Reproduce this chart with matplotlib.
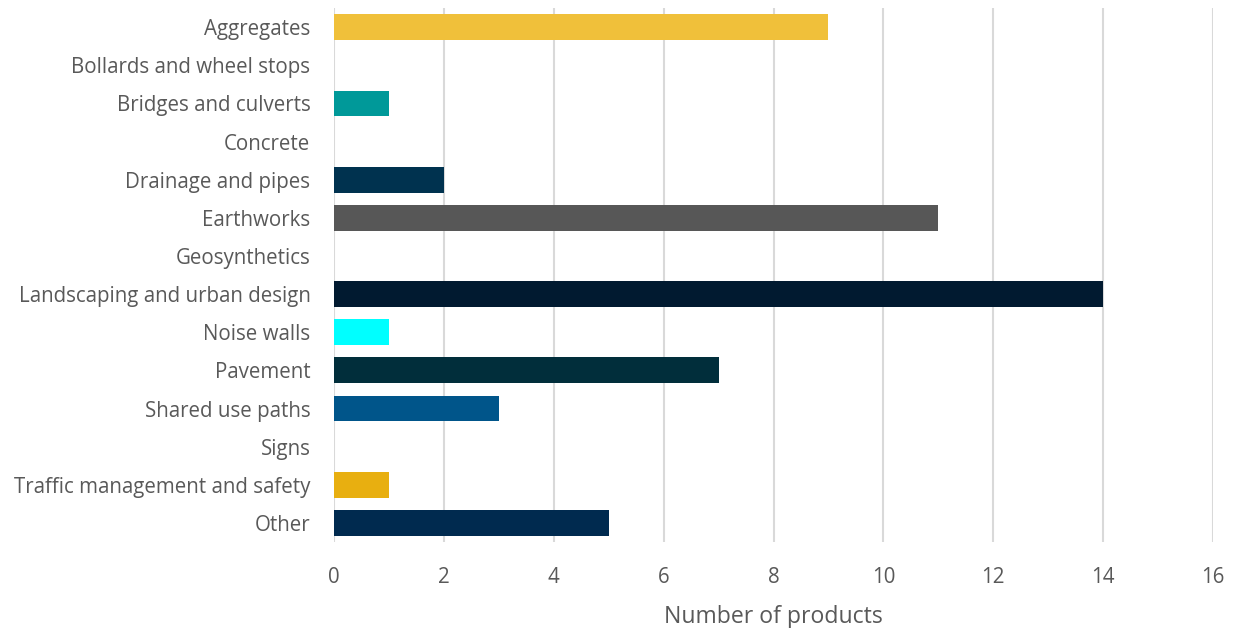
import matplotlib.pyplot as plt

categories = [
    "Aggregates", "Bollards and wheel stops", "Bridges and culverts", "Concrete",
    "Drainage and pipes", "Earthworks", "Geosynthetics", "Landscaping and urban design",
    "Noise walls", "Pavement", "Shared use paths", "Signs",
    "Traffic management and safety", "Other",
]
counts = [9, 0, 1, 0, 2, 11, 0, 14, 1, 7, 3, 0, 1, 5]
colors = [
    "#F0C03A", "#FFFFFF", "#009999", "#FFFFFF", "#00324F", "#575757", "#FFFFFF",
    "#011A30", "#00FFFF", "#012E3B", "#00558A", "#FFFFFF", "#E8AF10", "#002A4F",
]
xticks = [0, 2, 4, 6, 8, 10, 12, 14, 16]

plt.rcParams['font.family'] = ['Open Sans', 'DejaVu Sans']
text_color = "#595959"

fig = plt.figure(figsize=(12.34, 6.28), dpi=100)
ax = fig.add_axes([0.2707, 0.137, 0.983 - 0.2707, 0.987 - 0.137])

ypos = list(range(len(categories)))
ax.barh(ypos, counts, height=0.68, color=colors, zorder=3)

ax.set_ylim(len(categories) - 0.5, -0.5)
ax.set_yticks(ypos)
ax.set_yticklabels(categories, fontsize=14.8, color=text_color)
ax.set_xlim(0, 16)
ax.set_xticks(xticks)
ax.set_xticklabels([str(t) for t in xticks], fontsize=14.8, color=text_color)
ax.set_xlabel("Number of products", fontsize=16.6, color=text_color, labelpad=12)

ax.grid(axis='x', color="#D9D9D9", linewidth=1.5, zorder=0)
for s in ax.spines.values():
    s.set_visible(False)
ax.tick_params(axis='both', length=0)
ax.tick_params(axis='y', pad=17)
ax.tick_params(axis='x', pad=18)

fig.savefig("out.png", dpi=100)
